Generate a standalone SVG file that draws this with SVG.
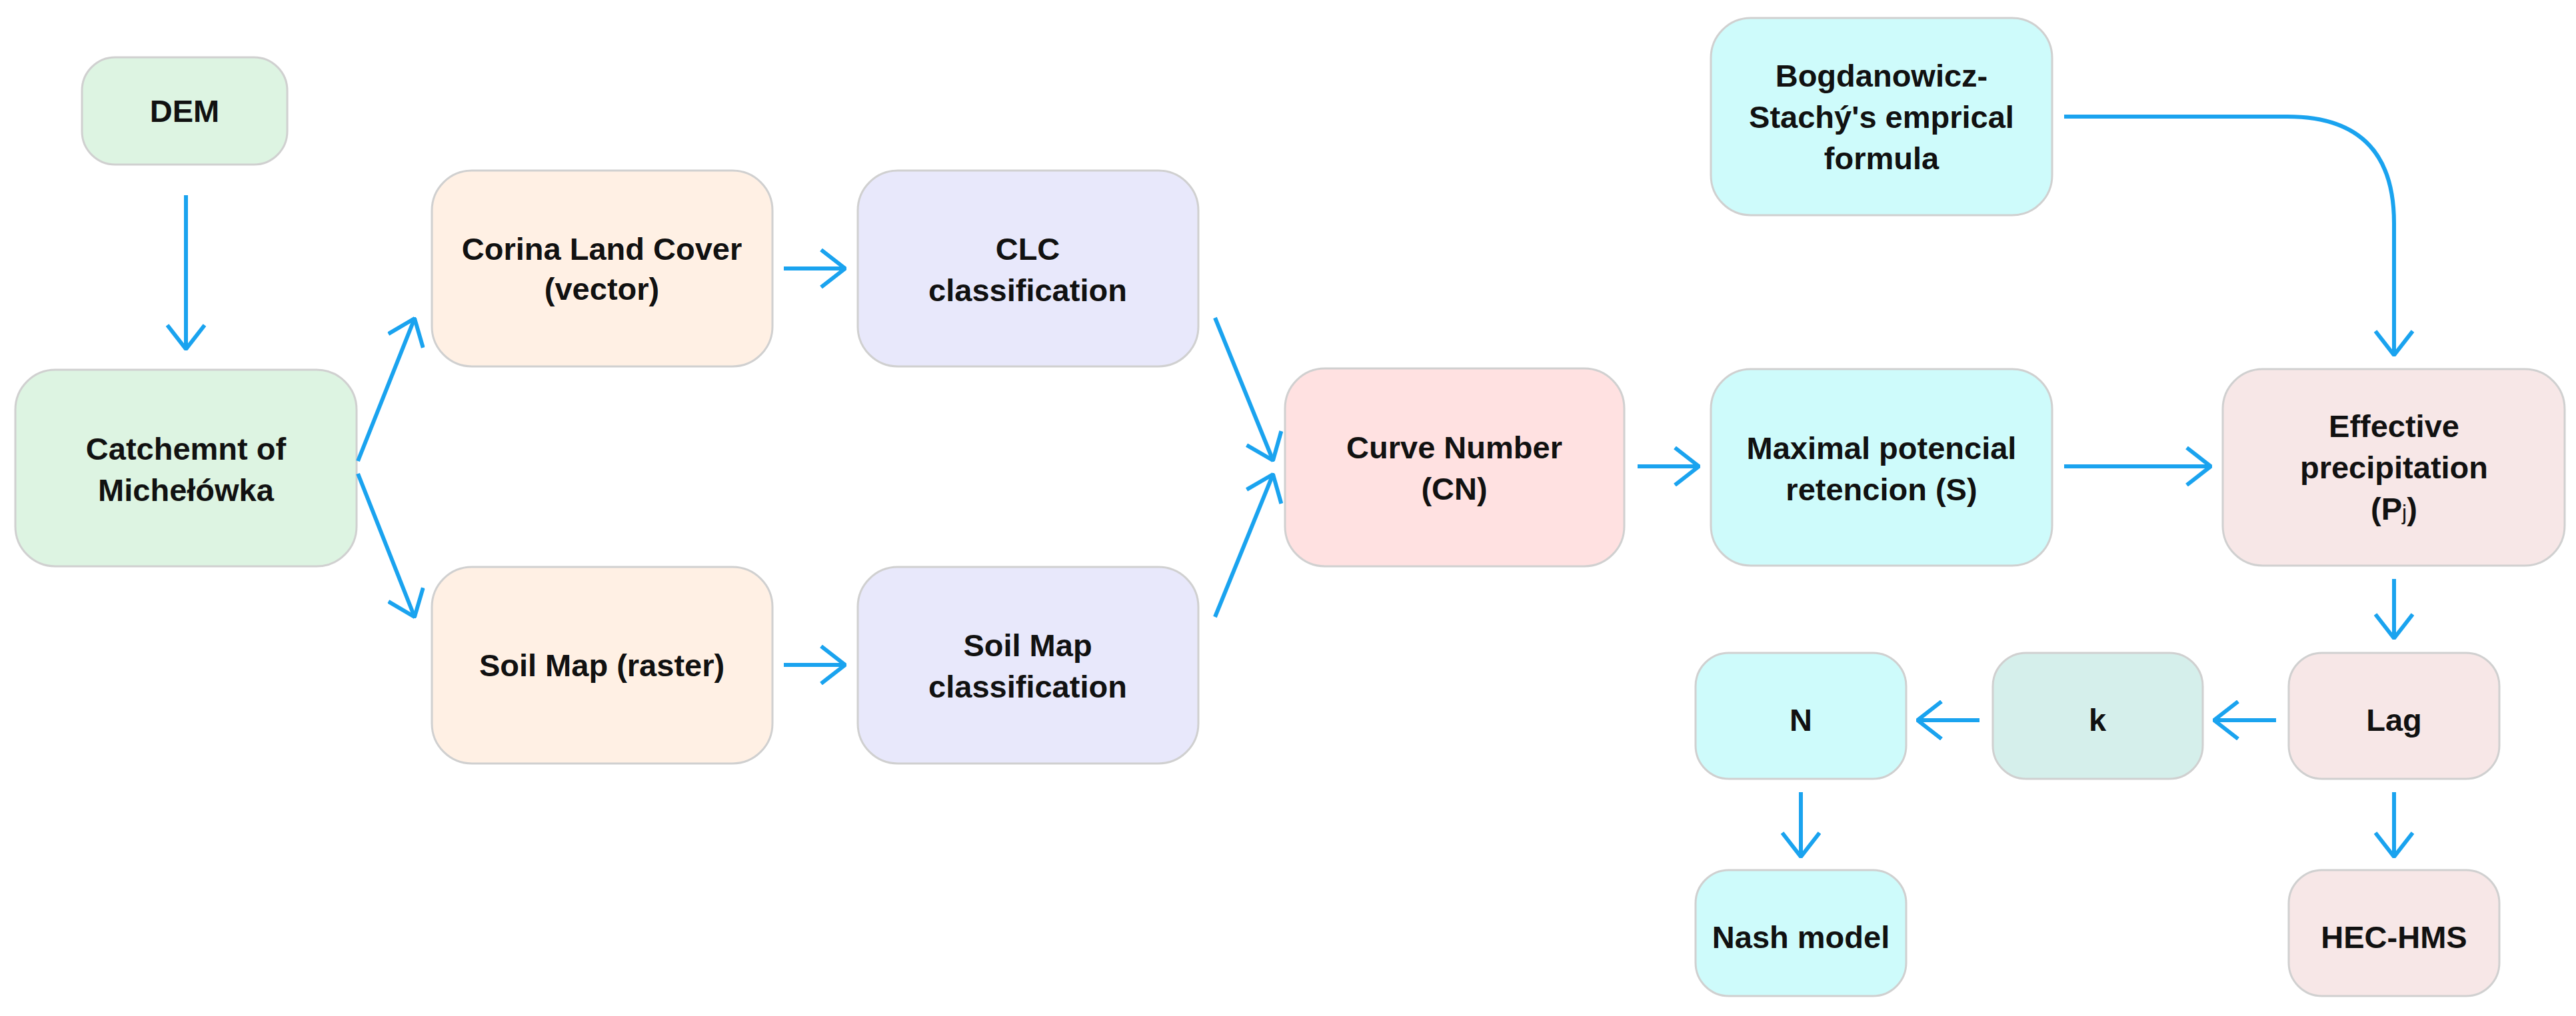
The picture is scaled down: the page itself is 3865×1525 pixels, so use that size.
<svg xmlns="http://www.w3.org/2000/svg" width="3865" height="1525" viewBox="0 0 3865 1525">
<defs>
<marker id="ah" viewBox="0 0 40 60" refX="38" refY="30" markerWidth="40" markerHeight="60" markerUnits="userSpaceOnUse" orient="auto">
<path d="M2,2 L38,30 L2,58" fill="none" stroke="#1aa3ef" stroke-width="6"/>
</marker>
</defs>
<style>
.n{stroke:#d0d0d0;stroke-width:3}
.t{font-family:"Liberation Sans",Arial,sans-serif;font-weight:bold;font-size:47px;fill:#111;text-anchor:middle}
.c{fill:none;stroke:#1aa3ef;stroke-width:6;marker-end:url(#ah)}
</style>
<rect width="3865" height="1525" fill="#fff"/>
<g id="dem"><rect class="n" x="123" y="86" width="308" height="161" rx="50" fill="#ddf4e2"/><text class="t" x="277" y="183">DEM</text></g>
<g id="catchment"><rect class="n" x="23" y="555" width="512" height="295" rx="60" fill="#ddf4e2"/><text class="t" x="279" y="690">Catchemnt of</text><text class="t" x="279" y="752">Michełówka</text></g>
<g id="corina"><rect class="n" x="648" y="256" width="511" height="294" rx="60" fill="#fff0e4"/><text class="t" x="903" y="390">Corina Land Cover</text><text class="t" x="903" y="450">(vector)</text></g>
<g id="soilmap"><rect class="n" x="648" y="851" width="511" height="295" rx="60" fill="#fff0e4"/><text class="t" x="903" y="1015">Soil Map (raster)</text></g>
<g id="clc"><rect class="n" x="1287" y="256" width="511" height="294" rx="60" fill="#e8e8fb"/><text class="t" x="1542" y="390">CLC</text><text class="t" x="1542" y="452">classification</text></g>
<g id="soilclass"><rect class="n" x="1287" y="851" width="511" height="295" rx="60" fill="#e8e8fb"/><text class="t" x="1542" y="985">Soil Map</text><text class="t" x="1542" y="1047">classification</text></g>
<g id="cn"><rect class="n" x="1928" y="553" width="509" height="297" rx="60" fill="#ffe1e1"/><text class="t" x="2182" y="688">Curve Number</text><text class="t" x="2182" y="750">(CN)</text></g>
<g id="bogd"><rect class="n" x="2567" y="27" width="512" height="296" rx="60" fill="#cefbfb"/><text class="t" x="2823" y="130">Bogdanowicz-</text><text class="t" x="2823" y="192">Stachý's emprical</text><text class="t" x="2823" y="254">formula</text></g>
<g id="maxs"><rect class="n" x="2567" y="554" width="512" height="295" rx="60" fill="#cefbfb"/><text class="t" x="2823" y="689">Maximal potencial</text><text class="t" x="2823" y="751">retencion (S)</text></g>
<g id="eff"><rect class="n" x="3335" y="554" width="513" height="295" rx="60" fill="#f7e7e7"/><text class="t" x="3592" y="656">Effective</text><text class="t" x="3592" y="718">precipitation</text><text class="t" x="3592" y="780">(P<tspan font-size="32" font-weight="normal">j</tspan>)</text></g>
<g id="lag"><rect class="n" x="3434" y="980" width="316" height="189" rx="50" fill="#f7e7e7"/><text class="t" x="3592" y="1097">Lag</text></g>
<g id="hec"><rect class="n" x="3434" y="1306" width="316" height="189" rx="50" fill="#f7e7e7"/><text class="t" x="3592" y="1423">HEC-HMS</text></g>
<g id="k"><rect class="n" x="2990" y="980" width="315" height="189" rx="50" fill="#d5efeb"/><text class="t" x="3147" y="1097">k</text></g>
<g id="nn"><rect class="n" x="2544" y="980" width="316" height="189" rx="50" fill="#cefbfb"/><text class="t" x="2702" y="1097">N</text></g>
<g id="nash"><rect class="n" x="2544" y="1306" width="316" height="189" rx="50" fill="#cefbfb"/><text class="t" x="2702" y="1423">Nash model</text></g>
<g id="connectors">
<path class="c" d="M279,293 L279,524"/>
<path class="c" d="M537,692 L622,478"/>
<path class="c" d="M537,711 L622,926"/>
<path class="c" d="M1176,403 L1268,403"/>
<path class="c" d="M1176,998 L1268,998"/>
<path class="c" d="M1823,477 L1910,691"/>
<path class="c" d="M1823,926 L1910,712"/>
<path class="c" d="M2457,700 L2549,700"/>
<path class="c" d="M3097,700 L3317,700"/>
<path class="c" d="M3097,175 L3432,175 Q3592,175 3592,335 L3592,533"/>
<path class="c" d="M3592,869 L3592,958"/>
<path class="c" d="M3415,1081 L3322,1081"/>
<path class="c" d="M2970,1081 L2877,1081"/>
<path class="c" d="M2702,1189 L2702,1286"/>
<path class="c" d="M3592,1189 L3592,1286"/>
</g>
</svg>
